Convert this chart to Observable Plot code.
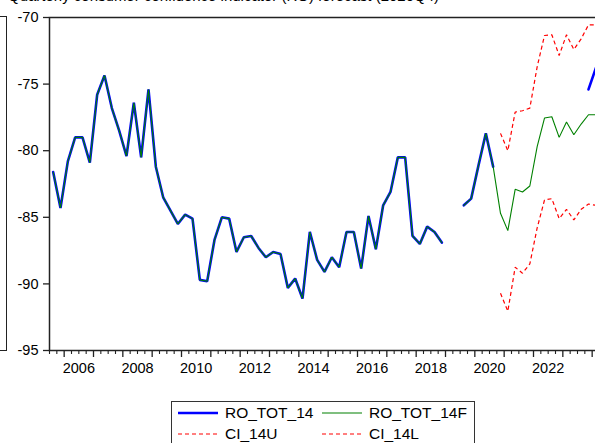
<!DOCTYPE html>
<html>
<head>
<meta charset="utf-8">
<script src="https://cdn.jsdelivr.net/npm/d3@7"></script>
<script src="https://cdn.jsdelivr.net/npm/@observablehq/plot@0.6"></script>
<style>
  html, body { margin: 0; padding: 0; overflow: hidden; background: #fff; width: 595px; height: 443px; }
  body { position: relative; font-family: "Liberation Sans", Arial, sans-serif; }
  #title { position: absolute; left: 8px; top: -13px; font-size: 15px; line-height: 18px; white-space: nowrap; color: #000; }
  #neighbor { position: absolute; left: -20px; top: 16px; width: 25px; height: 333px; border: 1.4px solid #222; }
  #chart { position: absolute; left: 0; top: 0; width: 620px; }
  #chart svg { max-width: none !important; width: 620px !important; height: 385px !important; }
  #legend { position: absolute; left: 171px; top: 401px; width: 304px; height: 60px; border: 1px solid #333; box-sizing: border-box; font-size: 15.5px; color: #000; }
  .item { position: absolute; display: flex; align-items: center; height: 20px; }
  .item svg { margin-right: 6px; }
</style>
</head>
<body>
<div id="title">Quarterly consumer confidence indicator (RO) forecast (2020Q4)</div>
<div id="neighbor"></div>
<div id="chart"></div>
<div id="legend"></div>
<script>
const quarters = [
  "2005Q3","2005Q4",
  "2006Q1","2006Q2","2006Q3","2006Q4",
  "2007Q1","2007Q2","2007Q3","2007Q4",
  "2008Q1","2008Q2","2008Q3","2008Q4",
  "2009Q1","2009Q2","2009Q3","2009Q4",
  "2010Q1","2010Q2","2010Q3","2010Q4",
  "2011Q1","2011Q2","2011Q3","2011Q4",
  "2012Q1","2012Q2","2012Q3","2012Q4",
  "2013Q1","2013Q2","2013Q3","2013Q4",
  "2014Q1","2014Q2","2014Q3","2014Q4",
  "2015Q1","2015Q2","2015Q3","2015Q4",
  "2016Q1","2016Q2","2016Q3","2016Q4",
  "2017Q1","2017Q2","2017Q3","2017Q4",
  "2018Q1","2018Q2","2018Q3","2018Q4",
  "2019Q1","2019Q2","2019Q3","2019Q4",
  "2020Q1","2020Q2","2020Q3","2020Q4",
  "2021Q1","2021Q2","2021Q3","2021Q4",
  "2022Q1","2022Q2","2022Q3","2022Q4",
  "2023Q1","2023Q2","2023Q3","2023Q4",
  "2024Q1"
];

// RO_TOT_14 (actual)
const ro_tot_14 = [
  -81.6, -84.3,
  -80.8, -79.0, -79.0, -80.9,
  -75.8, -74.35, -76.8, -78.5,
  -80.4, -76.4, -80.5, -75.4,
  -81.2, -83.5, -84.5, -85.5,
  -84.8, -85.1, -89.7, -89.8,
  -86.7, -85.0, -85.1, -87.6,
  -86.5, -86.4, -87.3, -88.0,
  -87.6, -87.75, -90.3, -89.6,
  -91.1, -86.1, -88.2, -89.1,
  -88.0, -88.75, -86.1, -86.1,
  -88.85, -84.9, -87.4, -84.1,
  -83.1, -80.5, -80.5, -86.4,
  -87.0, -85.7, -86.1, -86.9,
  null, null, -84.1, -83.6,
  -81.1, -78.7, -81.2, null,
  null, null, null, null,
  null, null, null, null,
  null, null, null, -75.4,
  -73.8
];

// RO_TOT_14F (fitted / forecast)
const ro_tot_14f = [
  -81.6, -84.3,
  -80.8, -79.0, -79.0, -80.9,
  -75.8, -74.35, -76.8, -78.5,
  -80.4, -76.4, -80.5, -75.4,
  -81.2, -83.5, -84.5, -85.5,
  -84.8, -85.1, -89.7, -89.8,
  -86.7, -85.0, -85.1, -87.6,
  -86.5, -86.4, -87.3, -88.0,
  -87.6, -87.75, -90.3, -89.6,
  -91.1, -86.1, -88.2, -89.1,
  -88.0, -88.75, -86.1, -86.1,
  -88.85, -84.9, -87.4, -84.1,
  -83.1, -80.5, -80.5, -86.4,
  -87.0, -85.7, -86.1, -86.9,
  null, null, -84.1, -83.6,
  -81.1, -78.7, -81.2, -84.7,
  -86.0, -82.9, -83.1, -82.65,
  -79.7, -77.55, -77.45, -79.0,
  -77.85, -78.8, -78.0, -77.3,
  -77.3
];

// CI_14U (upper bound)
const ci_14u = [
  null, null,
  null, null, null, null,
  null, null, null, null,
  null, null, null, null,
  null, null, null, null,
  null, null, null, null,
  null, null, null, null,
  null, null, null, null,
  null, null, null, null,
  null, null, null, null,
  null, null, null, null,
  null, null, null, null,
  null, null, null, null,
  null, null, null, null,
  null, null, null, null,
  null, null, null, -78.7,
  -80.0, -77.1, -77.0, -76.8,
  -73.7, -71.35, -71.3, -72.85,
  -71.3, -72.4, -71.6, -70.55,
  -70.55
];

// CI_14L (lower bound)
const ci_14l = [
  null, null,
  null, null, null, null,
  null, null, null, null,
  null, null, null, null,
  null, null, null, null,
  null, null, null, null,
  null, null, null, null,
  null, null, null, null,
  null, null, null, null,
  null, null, null, null,
  null, null, null, null,
  null, null, null, null,
  null, null, null, null,
  null, null, null, null,
  null, null, null, null,
  null, null, null, -90.7,
  -92.05, -88.75, -89.2, -88.5,
  -85.8, -83.7, -83.6, -85.1,
  -84.4, -85.2, -84.4, -84.0,
  -84.1
];

const yTicks = [-95, -90, -85, -80, -75, -70];
const yearTicks = [2006, 2007, 2008, 2009, 2010, 2011, 2012, 2013, 2014, 2015, 2016, 2017, 2018, 2019, 2020, 2021, 2022, 2023, 2024];
const yearLabels = [2006, 2008, 2010, 2012, 2014, 2016, 2018, 2020, 2022];

const seriesNames = ["RO_TOT_14", "RO_TOT_14F", "CI_14U", "CI_14L"];
const seriesColors = ["#0000ff", "#008000", "#ff0000", "#ff0000"];

function qStart(q) { return +q.slice(0, 4) + (+q.slice(5) - 1) / 4; }
const rows = quarters.map((q, i) => ({
  t: qStart(q) + 0.125,
  blue: ro_tot_14[i],
  green: ro_tot_14f[i],
  u: ci_14u[i],
  l: ci_14l[i]
}));
const quarterTicks = quarters.map(qStart).filter(v => !Number.isInteger(v));
quarterTicks.push(2024.25);

const chart = Plot.plot({
  width: 620,
  height: 385,
  marginLeft: 49,
  marginRight: 21,
  marginTop: 17,
  marginBottom: 35,
  x: {domain: [2005.5, 2024.25], label: null},
  y: {domain: [-95, -70], label: null},
  style: {fontFamily: "'Liberation Sans', Arial, sans-serif", fontSize: "14.5px", color: "#000", background: "transparent", maxWidth: "none"},
  marks: [
    Plot.axisY({ticks: yTicks, tickSize: 6, tickPadding: 5, tickFormat: d => String(d), label: null, stroke: "#222", strokeWidth: 1.3}),
    Plot.axisX({ticks: quarterTicks, tickSize: 4, tickFormat: () => "", label: null, stroke: "#222", strokeWidth: 1.1}),
    Plot.axisX({ticks: yearTicks, tickSize: 7, tickFormat: () => "", label: null, stroke: "#222", strokeWidth: 1.3}),
    Plot.axisX({ticks: yearLabels.map(y => y + 0.5), tickSize: 0, tickPadding: 12, tickFormat: d => String(Math.floor(d)), label: null}),
    Plot.line(rows, {x: "t", y: "u", stroke: seriesColors[2], strokeWidth: 1.2, strokeDasharray: "4,3", strokeLinejoin: "miter", strokeLinecap: "butt"}),
    Plot.line(rows, {x: "t", y: "l", stroke: seriesColors[3], strokeWidth: 1.2, strokeDasharray: "4,3", strokeLinejoin: "miter", strokeLinecap: "butt"}),
    Plot.line(rows, {x: "t", y: "blue", stroke: seriesColors[0], strokeWidth: 2.6, strokeLinejoin: "miter"}),
    Plot.line(rows, {x: "t", y: "green", stroke: seriesColors[1], strokeWidth: 1.1, strokeLinejoin: "miter"}),
    Plot.frame({stroke: "#222", strokeWidth: 1.5})
  ]
});
document.getElementById("chart").appendChild(chart);

// Legend
const legend = document.getElementById("legend");
const pos = [[6, 1], [150, 1], [6, 22], [150, 22]];
seriesNames.forEach((name, i) => {
  const item = document.createElement("div");
  item.className = "item";
  item.style.left = pos[i][0] + "px";
  item.style.top = pos[i][1] + "px";
  const dashed = i >= 2;
  const w = i === 0 ? 2.6 : 1.2;
  item.innerHTML = `<svg width="41" height="10"><line x1="0" x2="40" y1="5" y2="5" stroke="${seriesColors[i]}" stroke-width="${w}" ${dashed ? 'stroke-dasharray="4,3"' : ''}/></svg><span>${name}</span>`;
  legend.appendChild(item);
});
</script>
</body>
</html>
